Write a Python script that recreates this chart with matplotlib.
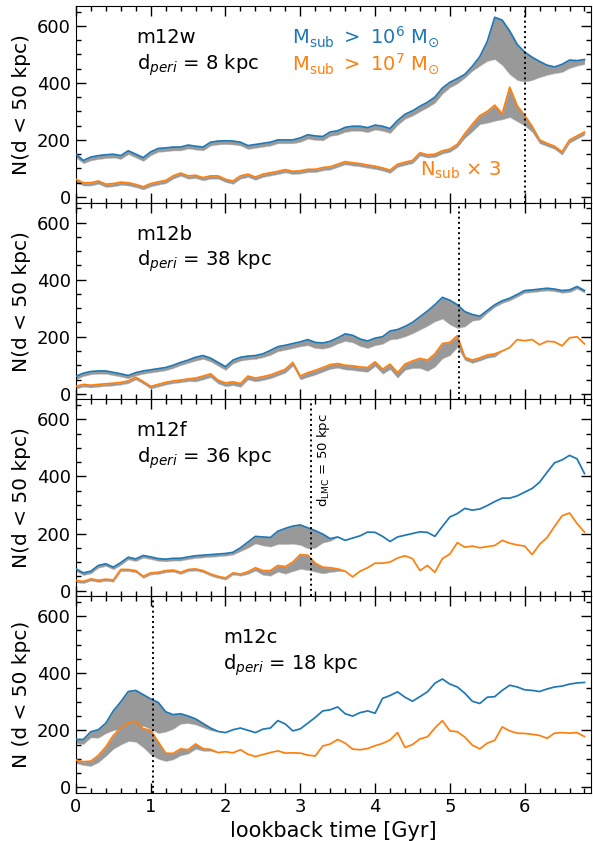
import numpy as np
import matplotlib
matplotlib.use("Agg")
import matplotlib.pyplot as plt
from matplotlib.ticker import MultipleLocator
import matplotlib.transforms as mtransforms

# lookback time grid [Gyr], 0.0 ... 6.8
time = np.round(np.arange(69) * 0.1, 1)

names = ["m12w", "m12b", "m12f", "m12c"]
d_peri = [8, 38, 36, 18]
t_lmc50 = [6.0, 5.12, 3.15, 1.03]   # time when d_LMC = 50 kpc

# N(d < 50 kpc), Msub > 1e6
n6_m12w = [150, 128, 140, 145, 148, 150, 145, 162, 150, 138,
           158, 170, 172, 175, 175, 182, 178, 175, 192, 196,
           197, 196, 192, 180, 184, 188, 192, 200, 200, 200,
           207, 218, 214, 212, 228, 232, 244, 248, 248, 243,
           252, 248, 240, 268, 290, 302, 318, 332, 350, 382,
           402, 415, 430, 458, 492, 545, 630, 620, 582, 535,
           508, 490, 475, 462, 456, 465, 480, 478, 482]
n6_m12b = [61, 72, 78, 80, 80, 75, 70, 64, 74, 80,
           84, 88, 92, 100, 110, 118, 128, 134, 125, 110,
           95, 118, 128, 132, 134, 140, 152, 165, 170, 176,
           182, 190, 180, 178, 184, 196, 210, 205, 192, 185,
           195, 200, 220, 225, 236, 250, 270, 290, 312, 338,
           328, 312, 288, 278, 272, 292, 312, 326, 335, 348,
           362, 364, 367, 370, 367, 362, 364, 376, 362]
n6_m12f = [76, 62, 68, 88, 94, 82, 98, 117, 111, 123,
           118, 112, 110, 113, 113, 118, 122, 124, 126, 128,
           130, 134, 150, 170, 190, 188, 186, 208, 218, 226,
           230, 220, 210, 198, 182, 188, 176, 184, 192, 205,
           204, 190, 172, 188, 194, 200, 206, 204, 190, 225,
           258, 270, 288, 282, 286, 298, 312, 324, 324, 332,
           345, 358, 380, 415, 448, 458, 474, 462, 410]
n6_m12c = [168, 168, 195, 202, 225, 268, 300, 336, 340, 325,
           310, 298, 265, 255, 258, 250, 240, 224, 208, 196,
           192, 202, 208, 200, 192, 204, 208, 234, 222, 198,
           205, 225, 245, 268, 272, 282, 258, 250, 262, 268,
           260, 312, 322, 335, 316, 302, 318, 335, 365, 380,
           362, 352, 330, 302, 294, 316, 318, 340, 358, 352,
           342, 340, 336, 345, 352, 355, 362, 366, 368]

# N(d < 50 kpc) x 3, Msub > 1e7
n7_m12w = [62, 50, 50, 56, 45, 47, 52, 50, 44, 36,
           47, 53, 58, 74, 84, 74, 76, 68, 74, 74,
           62, 56, 74, 80, 70, 80, 85, 90, 96, 90,
           92, 97, 97, 103, 106, 115, 124, 120, 117, 112,
           108, 102, 94, 115, 122, 128, 155, 148, 150, 162,
           168, 185, 222, 255, 285, 300, 322, 292, 385, 320,
           286, 248, 200, 188, 178, 158, 200, 214, 228]
n7_m12b = [26, 33, 30, 33, 35, 37, 40, 45, 58, 43,
           26, 33, 40, 45, 48, 52, 55, 62, 70, 48,
           38, 42, 36, 62, 55, 60, 66, 76, 86, 110,
           62, 74, 82, 92, 102, 106, 100, 98, 94, 92,
           112, 86, 104, 74, 104, 115, 124, 118, 140, 176,
           180, 204, 128, 118, 126, 136, 140, 150, 162, 190,
           186, 190, 172, 184, 182, 168, 196, 200, 175]
n7_m12f = [35, 32, 41, 36, 40, 37, 74, 74, 70, 50,
           62, 64, 70, 72, 64, 74, 76, 70, 58, 50,
           44, 62, 58, 66, 80, 70, 70, 88, 84, 100,
           126, 124, 96, 82, 80, 76, 68, 48, 68, 80,
           96, 96, 100, 114, 122, 112, 70, 88, 64, 112,
           128, 168, 152, 156, 150, 154, 158, 176, 166, 160,
           156, 126, 162, 186, 225, 262, 272, 235, 205]
n7_m12c = [96, 90, 92, 112, 142, 182, 208, 226, 232, 206,
           200, 160, 120, 119, 135, 132, 152, 136, 133, 122,
           125, 121, 132, 116, 108, 115, 122, 128, 120, 121,
           120, 113, 110, 145, 152, 168, 155, 134, 132, 136,
           146, 154, 166, 192, 140, 150, 170, 177, 208, 234,
           198, 195, 176, 148, 135, 155, 165, 212, 198, 190,
           189, 186, 182, 172, 190, 192, 190, 192, 178]

# LMC-associated subhaloes (grey band below each line)
lmc6_m12w = [12, 10, 12, 12, 12, 12, 12, 12, 12, 12,
             12, 12, 12, 12, 12, 12, 12, 12, 12, 12,
             12, 12, 12, 12, 12, 12, 12, 12, 12, 12,
             14, 14, 14, 14, 14, 14, 16, 16, 16, 16,
             16, 16, 16, 16, 16, 17, 18, 18, 20, 20,
             18, 17, 12, 16, 32, 68, 147, 158, 152, 125,
             104, 80, 55, 34, 22, 27, 28, 18, 16]
lmc6_m12b = [10, 10, 10, 10, 10, 10, 10, 10, 10, 10,
             10, 10, 10, 10, 10, 10, 12, 12, 12, 12,
             12, 12, 12, 12, 12, 12, 16, 16, 16, 16,
             16, 20, 20, 20, 20, 20, 25, 25, 25, 25,
             25, 25, 30, 32, 35, 38, 45, 52, 58, 75,
             85, 82, 52, 22, 12, 8, 8, 8, 8, 8,
             8, 8, 8, 8, 8, 8, 8, 8, 8]
lmc6_m12f = [8, 8, 8, 8, 8, 8, 8, 8, 8, 8,
             8, 8, 8, 8, 8, 8, 8, 8, 8, 8,
             8, 8, 12, 20, 25, 30, 32, 45, 55, 62,
             70, 72, 60, 30, 8, 0, 0, 0, 0, 0,
             0, 0, 0, 0, 0, 0, 0, 0, 0, 0,
             0, 0, 0, 0, 0, 0, 0, 0, 0, 0,
             0, 0, 0, 0, 0, 0, 0, 0, 0]
lmc6_m12c = [13, 16, 20, 28, 35, 68, 95, 124, 125, 110,
             105, 108, 70, 50, 35, 25, 20, 14, 8, 0,
             0, 0, 0, 0, 0, 0, 0, 0, 0, 0,
             0, 0, 0, 0, 0, 0, 0, 0, 0, 0,
             0, 0, 0, 0, 0, 0, 0, 0, 0, 0,
             0, 0, 0, 0, 0, 0, 0, 0, 0, 0,
             0, 0, 0, 0, 0, 0, 0, 0, 0]

lmc7_m12w = [10, 10, 10, 10, 10, 10, 10, 10, 10, 10,
             10, 10, 10, 10, 10, 10, 10, 10, 10, 10,
             10, 10, 10, 10, 10, 10, 10, 10, 10, 10,
             10, 10, 10, 10, 10, 10, 10, 10, 10, 10,
             10, 10, 10, 10, 10, 10, 10, 10, 10, 10,
             10, 10, 15, 25, 30, 40, 55, 20, 105, 55,
             36, 20, 12, 10, 10, 10, 10, 10, 10]
lmc7_m12b = [8, 8, 8, 8, 8, 8, 8, 8, 8, 8,
             8, 8, 8, 8, 8, 8, 12, 12, 12, 12,
             12, 12, 12, 12, 12, 12, 12, 12, 12, 12,
             12, 15, 15, 15, 15, 15, 15, 15, 15, 15,
             15, 16, 18, 18, 20, 25, 34, 38, 45, 52,
             45, 40, 10, 10, 10, 10, 10, 0, 0, 0,
             0, 0, 0, 0, 0, 0, 0, 0, 0]
lmc7_m12f = [6, 6, 6, 6, 6, 6, 6, 6, 6, 6,
             6, 6, 6, 6, 6, 6, 6, 6, 6, 6,
             6, 6, 6, 8, 10, 15, 18, 22, 25, 32,
             50, 52, 30, 22, 15, 8, 0, 0, 0, 0,
             0, 0, 0, 0, 0, 0, 0, 0, 0, 0,
             0, 0, 0, 0, 0, 0, 0, 0, 0, 0,
             0, 0, 0, 0, 0, 0, 0, 0, 0]
lmc7_m12c = [11, 12, 17, 24, 32, 47, 58, 64, 72, 66,
             85, 60, 28, 21, 23, 14, 17, 8, 5, 0,
             0, 0, 0, 0, 0, 0, 0, 0, 0, 0,
             0, 0, 0, 0, 0, 0, 0, 0, 0, 0,
             0, 0, 0, 0, 0, 0, 0, 0, 0, 0,
             0, 0, 0, 0, 0, 0, 0, 0, 0, 0,
             0, 0, 0, 0, 0, 0, 0, 0, 0]

n6_all = [n6_m12w, n6_m12b, n6_m12f, n6_m12c]
n7_all = [n7_m12w, n7_m12b, n7_m12f, n7_m12c]
lmc6_all = [lmc6_m12w, lmc6_m12b, lmc6_m12f, lmc6_m12c]
lmc7_all = [lmc7_m12w, lmc7_m12b, lmc7_m12f, lmc7_m12c]

blue = "#1f77b4"
orange = "#ff7f0e"
grey = "0.6"

fig, axes = plt.subplots(4, 1, figsize=(5.93, 8.41), dpi=100, sharex=True)
fig.subplots_adjust(left=0.128, right=0.997, top=0.993, bottom=0.057, hspace=0)

for i, ax in enumerate(axes):
    n6 = np.array(n6_all[i], dtype=float)
    n7 = np.array(n7_all[i], dtype=float)
    w6 = np.array(lmc6_all[i], dtype=float)
    w7 = np.array(lmc7_all[i], dtype=float)

    # grey bands: contribution of LMC subhaloes
    ax.fill_between(time, n6 - w6, n6, where=w6 > 0, color=grey, lw=0.3,
                    edgecolor="0.75", interpolate=True, zorder=1)
    ax.fill_between(time, n7 - w7, n7, where=w7 > 0, color=grey, lw=0.3,
                    edgecolor="0.75", interpolate=True, zorder=1)
    ax.plot(time, n6, color=blue, lw=1.25, zorder=3)
    ax.plot(time, n7, color=orange, lw=1.25, zorder=3)

    ax.axvline(t_lmc50[i], color="k", ls=":", lw=1.4, zorder=4)

    ax.set_xlim(0, 6.89)
    ax.set_ylim(-20, 670)
    ax.yaxis.set_major_locator(MultipleLocator(200))
    ax.yaxis.set_minor_locator(MultipleLocator(50))
    ax.xaxis.set_major_locator(MultipleLocator(1))
    ax.xaxis.set_minor_locator(MultipleLocator(0.2))
    ax.tick_params(which="both", direction="in", top=True, right=True, labelsize=13)
    ax.tick_params(which="major", length=7, width=1)
    ax.tick_params(which="minor", length=3.5, width=1)

    if i == 3:
        ax.set_ylabel("N (d < 50 kpc)", fontsize=14.5)
        tx, ty1, ty2 = 0.285, 0.79, 0.65
    else:
        ax.set_ylabel("N(d < 50 kpc)", fontsize=14.5)
        tx, ty1, ty2 = 0.118, 0.84, 0.70
    ax.text(tx, ty1, names[i], transform=ax.transAxes, fontsize=14, va="center")
    ax.text(tx, ty2, r"d$_{peri}$ = %d kpc" % d_peri[i], transform=ax.transAxes,
            fontsize=14, va="center")

axes[0].text(0.42, 0.845, r"M$_{\rm sub}$ $>$ 10$^6$ M$_{\odot}$", color=blue,
             transform=axes[0].transAxes, fontsize=14, va="center")
axes[0].text(0.42, 0.705, r"M$_{\rm sub}$ $>$ 10$^7$ M$_{\odot}$", color=orange,
             transform=axes[0].transAxes, fontsize=14, va="center")
axes[0].text(0.668, 0.165, r"N$_{\rm sub}$ $\times$ 3", color=orange,
             transform=axes[0].transAxes, fontsize=14, va="center")

trans = mtransforms.blended_transform_factory(axes[2].transData, axes[2].transAxes)
axes[2].text(t_lmc50[2] + 0.05, 0.93, r"d$_{\rm LMC}$ = 50 kpc", transform=trans,
             rotation=90, fontsize=9.5, ha="left", va="top")

axes[3].set_xlabel("lookback time [Gyr]", fontsize=15)

fig.savefig("out.png", dpi=100)
